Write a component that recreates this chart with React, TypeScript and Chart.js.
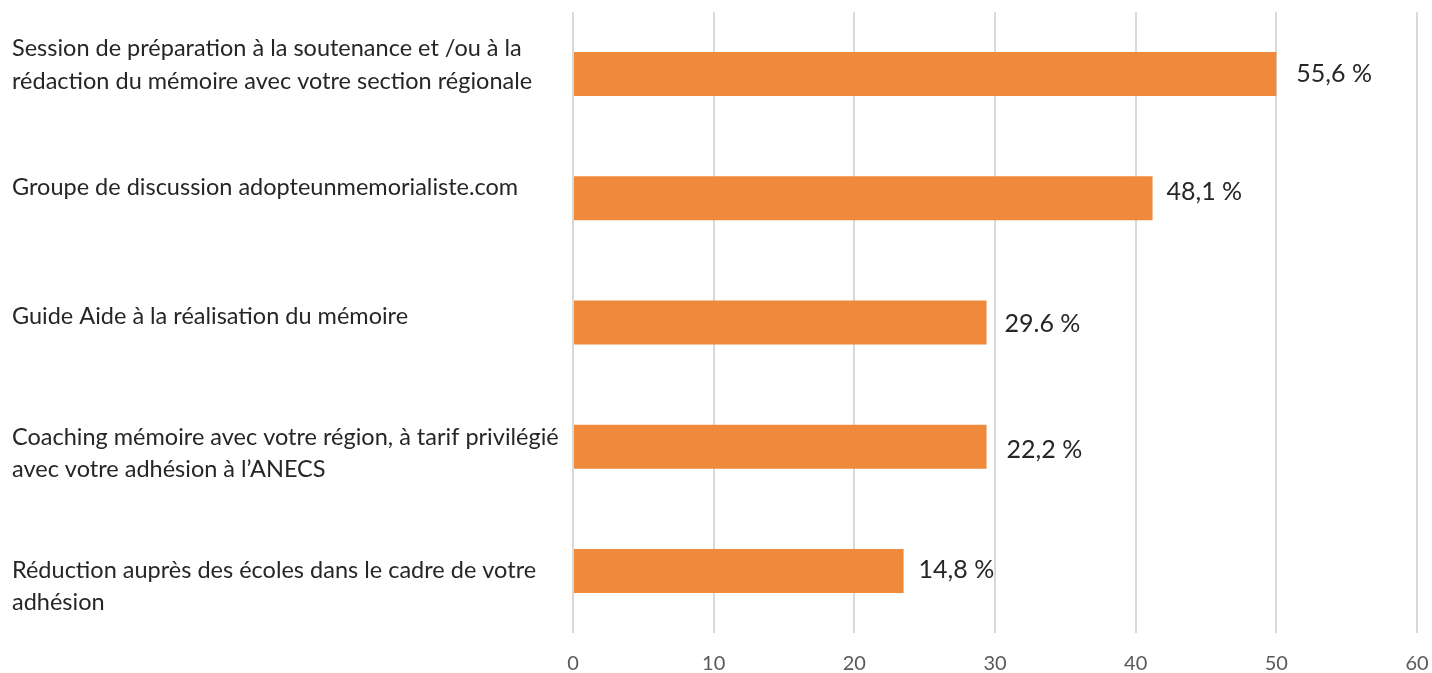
import React, { useEffect, useRef } from "react";
import { Chart, registerables } from "chart.js";

Chart.register(...registerables);

const categories: string[][] = [
  ["Session de préparation à la soutenance et /ou à la", "rédaction du mémoire avec votre section régionale"],
  ["Groupe de discussion adopteunmemorialiste.com"],
  ["Guide Aide à la réalisation du mémoire"],
  ["Coaching mémoire avec votre région, à tarif privilégié", "avec votre adhésion à l’ANECS"],
  ["Réduction auprès des écoles dans le cadre de votre", "adhésion"],
];
const barValues = [50, 41.2, 29.4, 29.4, 23.5];
const valueLabels = ["55,6 %", "48,1 %", "29.6 %", "22,2 %", "14,8 %"];
const xTicks = [0, 10, 20, 30, 40, 50, 60];

const FONT = "Lato, 'Open Sans', sans-serif";

// small per-label text nudges (pixels) to mimic the original free-floating text boxes
const categoryBaselineNudge = [-18, -3, 1, -2, 7];
const valueLabelNudgeY = [-1, -7, 0, 2, -2];
const valueLabelGap = [20, 14, 18, 20, 15];

const categoryLabelPlugin = {
  id: "categoryLabels",
  afterDraw(chart: any) {
    const ctx = chart.ctx;
    const yScale = chart.scales.y;
    ctx.save();
    ctx.font = `23.5px ${FONT}`;
    ctx.fillStyle = "#262626";
    ctx.textAlign = "left";
    ctx.textBaseline = "alphabetic";
    categories.forEach((lines, i) => {
      const y0 = yScale.getPixelForValue(i) + categoryBaselineNudge[i];
      lines.forEach((line, j) => {
        ctx.fillText(line, 12, y0 + j * 32.5);
      });
    });
    ctx.restore();
  },
};

const valueLabelPlugin = {
  id: "valueLabels",
  afterDatasetsDraw(chart: any) {
    const ctx = chart.ctx;
    const meta = chart.getDatasetMeta(0);
    ctx.save();
    ctx.font = `25px ${FONT}`;
    ctx.fillStyle = "#262626";
    ctx.textAlign = "left";
    ctx.textBaseline = "alphabetic";
    const capH = ctx.measureText("5").actualBoundingBoxAscent || 18;
    meta.data.forEach((bar: any, i: number) => {
      ctx.fillText(valueLabels[i], bar.x + valueLabelGap[i], bar.y + capH / 2 + valueLabelNudgeY[i]);
    });
    ctx.restore();
  },
};

export default function App() {
  const ref = useRef<HTMLCanvasElement>(null);
  useEffect(() => {
    if (!ref.current) return;
    const chart = new Chart(ref.current, {
      type: "bar",
      data: {
        labels: categories.map((l) => l.join(" ")),
        datasets: [
          {
            data: barValues,
            backgroundColor: "#EF8A3D",
            borderWidth: 0,
            barPercentage: 0.3545,
            categoryPercentage: 1,
          },
        ],
      },
      options: {
        indexAxis: "y",
        animation: false,
        responsive: false,
        maintainAspectRatio: false,
        layout: { padding: { left: 12, top: 12, right: 15, bottom: 0 } },
        plugins: {
          legend: { display: false },
          tooltip: { enabled: false },
        },
        scales: {
          x: {
            min: 0,
            max: 60,
            afterBuildTicks: (scale: any) => {
              scale.ticks = xTicks.map((v) => ({ value: v }));
            },
            afterFit: (scale: any) => {
              scale.height = 40;
              scale.paddingLeft = 0;
              scale.paddingRight = 0;
            },
            grid: { color: "#d9d9d9", lineWidth: 2, drawTicks: false },
            border: { display: false },
            ticks: {
              padding: 19,
              color: "#595959",
              font: { family: FONT, size: 20 },
            },
          },
          y: {
            afterFit: (scale: any) => {
              scale.width = 561;
              scale.paddingTop = 0;
              scale.paddingBottom = 0;
            },
            grid: { display: false, drawTicks: false },
            border: { display: false },
            ticks: { display: false },
          },
        },
      },
      plugins: [categoryLabelPlugin, valueLabelPlugin],
    });
    return () => chart.destroy();
  }, []);
  return (
    <div style={{ position: "fixed", left: 0, top: 0, width: 1432, height: 673, background: "#fff" }}>
      <canvas ref={ref} width={1432} height={673} style={{ width: 1432, height: 673 }} />
    </div>
  );
}
